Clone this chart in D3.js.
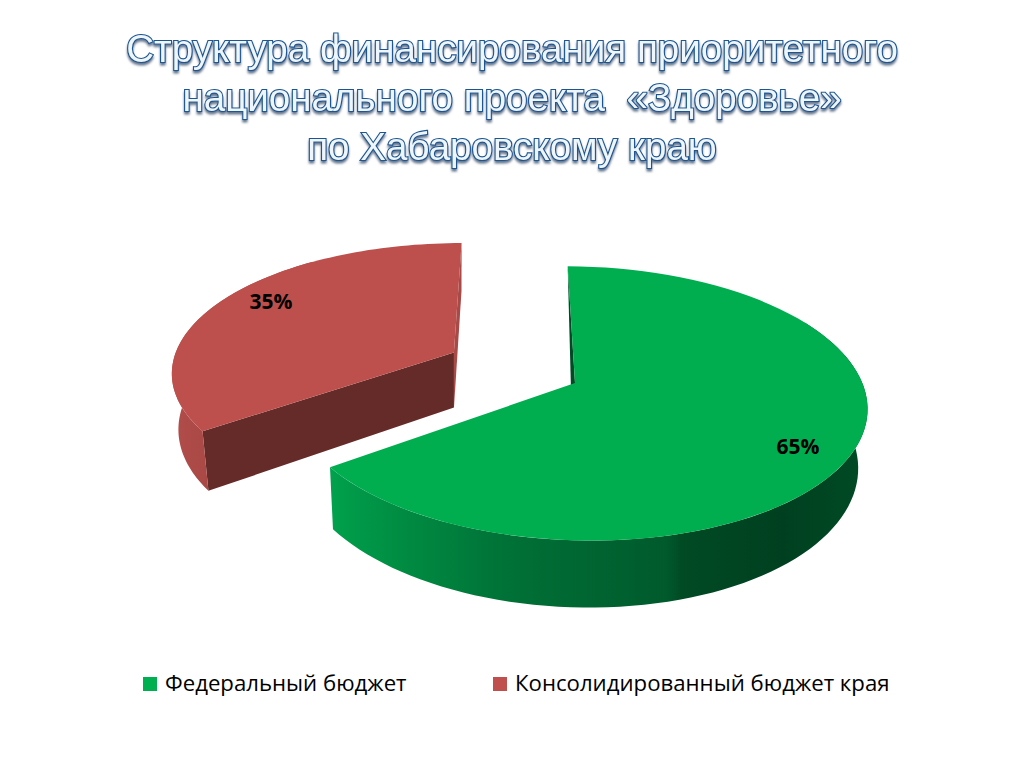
<!DOCTYPE html>
<html><head><meta charset="utf-8">
<script src="https://cdn.jsdelivr.net/npm/d3@7/dist/d3.min.js"></script>
<style>html,body{margin:0;padding:0;background:#fff}svg{display:block}</style>
</head><body><svg id="c" width="1024" height="768"></svg>
<script>
const titleLines = ["Структура финансирования приоритетного","национального проекта  «Здоровье»","по Хабаровскому краю"];
const categories = ["Федеральный бюджет","Консолидированный бюджет края"];
const values = [65,35];
const labels = ["65%","35%"];
const topColors = ["#00ae50","#bd504d"];

const svg = d3.select("#c");
const defs = svg.append("defs");
const sh = defs.append("filter").attr("id","ts").attr("x","-5%").attr("y","-20%").attr("width","110%").attr("height","150%");
sh.append("feDropShadow").attr("dx",0).attr("dy",2.5).attr("stdDeviation",1.3).attr("flood-color","#3f5570").attr("flood-opacity",.8);
const gg = defs.append("linearGradient").attr("id","gw").attr("gradientUnits","userSpaceOnUse").attr("x1",333).attr("x2",862).attr("y1",0).attr("y2",0);
[[0,"#00a04c"],[.13,"#008c42"],[.32,"#007237"],[.5,"#006431"],[.63,"#005a2c"],[.66,"#004a24"],[.85,"#004020"],[1,"#004a25"]].forEach(s=>gg.append("stop").attr("offset",s[0]).attr("stop-color",s[1]));
const rg = defs.append("linearGradient").attr("id","rw").attr("gradientUnits","userSpaceOnUse").attr("x1",172).attr("x2",210).attr("y1",0).attr("y2",0);
[[0,"#b24d4a"],[1,"#a84845"]].forEach(s=>rg.append("stop").attr("offset",s[0]).attr("stop-color",s[1]));

// perspective projection of the tilted disc
const AX=575, AY=383, R=285, S=134, Q=5, T=3, K=0.149, G=-0.012, DEPTH=57, VX=460, TAU=0.023;
function proj(u,v,low){
  const w=1+K*v+G*u;
  let x=AX+(R*u-Q*v)/w, y=AY+(T*u-S*v)/w;
  if(low){ x+= (VX-x)*TAU; y+=DEPTH/w; }
  return [x,y];
}
const line=d3.line();
const START=-0.012;
const pie=d3.pie().sort(null).startAngle(START).endAngle(2*Math.PI+START)(values);
const explode=[0,0.475], liftX=[0,-3], liftY=[0,-2], uScale=[1,1.025];
function pt(d,i,a,r,low){
  const mid=(d.startAngle+d.endAngle)/2;
  const u=explode[i]*Math.sin(mid)+uScale[i]*r*Math.sin(a), v=explode[i]*Math.cos(mid)+r*Math.cos(a);
  const p=proj(u,v,low);
  return [p[0]+liftX[i],p[1]+liftY[i]];
}
function rim(d,i,a0,a1,low){return d3.range(0,81).map(k=>pt(d,i,a0+(a1-a0)*k/80,1,low));}

const wallC=["url(#gw)","url(#rw)"];
// cut walls seen past the front of each slice
{
  const d=pie[0];
  svg.append("path").attr("fill","#004a25").attr("d",line([pt(d,0,d.startAngle,1,false),pt(d,0,d.startAngle,0,true),pt(d,0,d.startAngle,0,false)])+"Z");
  const r=pie[1];
  svg.append("path").attr("fill","#a84a47").attr("d",line([pt(r,1,r.endAngle,1,false),pt(r,1,r.endAngle,1,true),pt(r,1,r.endAngle,0,true),pt(r,1,r.endAngle,0,false)])+"Z");
  svg.append("path").attr("fill","#652b29").attr("d",line([pt(r,1,r.startAngle,0,false),pt(r,1,r.startAngle,1,false),pt(r,1,r.startAngle,1,true),pt(r,1,r.startAngle,0,true)])+"Z");
}
[1,0].forEach(i=>{
  const d=pie[i], g=svg.append("g");
  const a0=d.startAngle, a1=d.endAngle;
  // rim only along the part of the arc that faces the viewer
  const visA=i===0?[Math.PI/3,a1]:[a0,a0+Math.PI/2];
  const up=rim(d,i,visA[0],visA[1],false), lo=rim(d,i,visA[0],visA[1],true).reverse();
  g.append("path").attr("fill",wallC[i]).attr("d",line(up.concat(lo))+"Z");
  const face=rim(d,i,a0,a1,false);
  g.append("path").attr("fill",topColors[i]).attr("d",line([pt(d,i,a0,0,false)].concat(face))+"Z");
});
// data labels
const lab=[[798,447],[271,302]];
labels.forEach((t,i)=>svg.append("text").attr("x",lab[i][0]).attr("y",lab[i][1]+7).attr("text-anchor","middle")
  .attr("font-family","'Open Sans'").attr("font-weight",700).attr("font-size",21).attr("fill","#000").text(t));
// title
const tY=[62,111,160];
titleLines.forEach((t,i)=>svg.append("text").attr("x",512).attr("y",tY[i]).attr("text-anchor","middle").attr("xml:space","preserve").style("white-space","pre")
  .attr("font-family","'Liberation Sans'").attr("font-size",38.6).attr("fill","#eef5fb").attr("stroke","#1a5490").attr("stroke-width",2.2)
  .attr("paint-order","stroke").attr("filter","url(#ts)").text(t));
// legend
const legX=[143,493], legC=["#00b050","#c0504d"];
categories.forEach((t,i)=>{
  svg.append("rect").attr("x",legX[i]).attr("y",677).attr("width",14).attr("height",14).attr("fill",legC[i]);
  svg.append("text").attr("x",legX[i]+22).attr("y",691).attr("font-family","'Open Sans'").attr("font-size",22.2).attr("fill","#000").text(t);
});
</script></body></html>
